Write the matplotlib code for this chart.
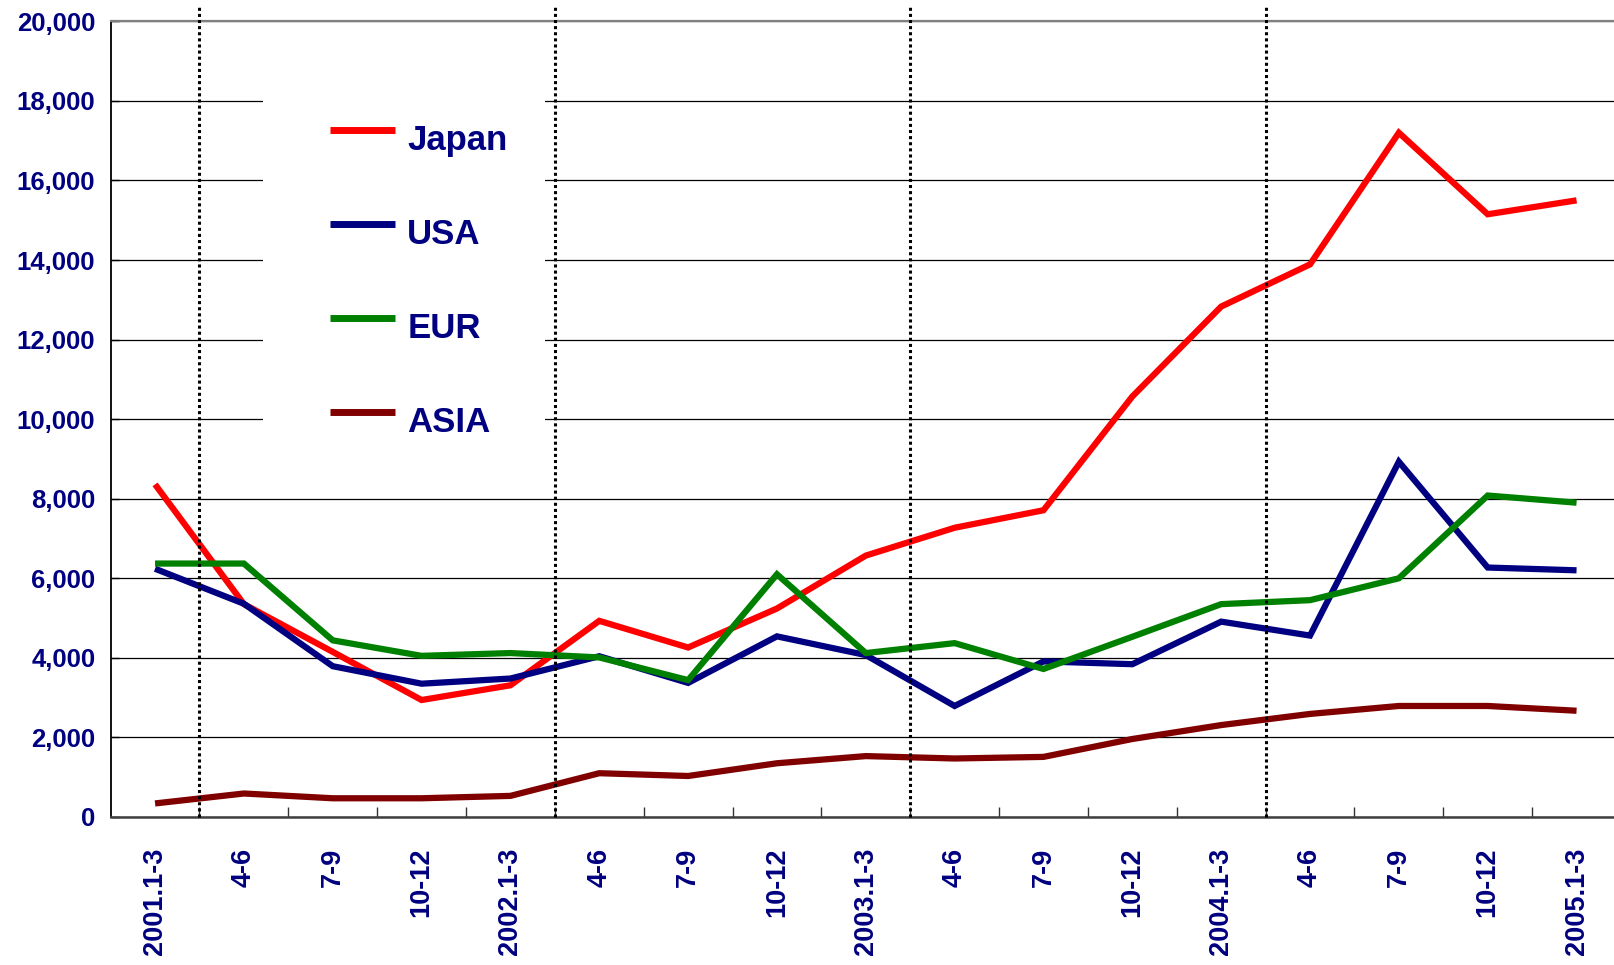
import matplotlib
matplotlib.use("Agg")
import numpy as np
import matplotlib.pyplot as plt
from matplotlib.patches import Rectangle
from matplotlib.ticker import FuncFormatter
from matplotlib.legend_handler import HandlerLine2D

plt.rcParams['font.family'] = ['Liberation Sans', 'DejaVu Sans']

quarters = ["2001.1-3", "4-6", "7-9", "10-12", "2002.1-3", "4-6", "7-9", "10-12",
            "2003.1-3", "4-6", "7-9", "10-12", "2004.1-3", "4-6", "7-9", "10-12",
            "2005.1-3"]
japan = [8360, 5350, 4150, 2940, 3310, 4930, 4260, 5240, 6570, 7270, 7710,
         10570, 12830, 13890, 17200, 15150, 15500]
usa = [6240, 5360, 3790, 3350, 3480, 4040, 3370, 4540, 4070, 2790, 3910,
       3840, 4910, 4560, 8930, 6270, 6200]
eur = [6370, 6370, 4440, 4050, 4120, 4010, 3440, 6100, 4120, 4370, 3720,
       4530, 5350, 5450, 6000, 8080, 7900]
asia = [340, 590, 470, 470, 530, 1100, 1030, 1350, 1530, 1470, 1510,
        1960, 2310, 2590, 2790, 2790, 2670]
series_names = ["Japan", "USA", "EUR", "ASIA"]
series_colors = ["#FF0000", "#000080", "#008000", "#800000"]
y_ticks = list(range(0, 20001, 2000))

NAVY = "#000080"


class RaisedLineHandler(HandlerLine2D):
    """Legend line drawn slightly above the label's centre."""
    def create_artists(self, legend, orig_handle, xdescent, ydescent,
                       width, height, fontsize, trans):
        artists = super().create_artists(legend, orig_handle, xdescent, ydescent,
                                         width, height, fontsize, trans)
        for a in artists:
            a.set_ydata(np.asarray(a.get_ydata(), dtype=float) + 5.8)
        return artists


fig = plt.figure(figsize=(16.15, 9.65), dpi=100)
ax = fig.add_axes([0.0685, 0.1534, 0.9352, 0.8245])

xs = list(range(len(quarters)))
lines = []
for name, vals, col in zip(series_names, [japan, usa, eur, asia], series_colors):
    ln, = ax.plot(xs, vals, color=col, lw=4.5, label=name, zorder=3,
                  solid_joinstyle='miter', solid_capstyle='butt')
    lines.append(ln)

ax.set_xlim(-0.5, len(quarters) - 0.5)
ax.set_ylim(y_ticks[0], y_ticks[-1])
ax.set_yticks(y_ticks)
ax.yaxis.set_major_formatter(FuncFormatter(lambda v, p: f"{int(v):,}"))

ax.set_xticks(xs)
ax.set_xticklabels(quarters, rotation=90)
ax.set_xticks([i + 0.5 for i in range(len(quarters) - 1)], minor=True)
ax.tick_params(axis='x', which='major', length=0, pad=22, labelsize=19.5,
               labelcolor=NAVY)
ax.tick_params(axis='x', which='minor', direction='in', length=7, width=1,
               color='#333333')
ax.tick_params(axis='y', direction='in', length=6, width=1, pad=11,
               labelsize=18.5, labelcolor=NAVY)
for lab in ax.get_xticklabels() + ax.get_yticklabels():
    lab.set_fontweight('bold')

ax.set_axisbelow(True)
ax.yaxis.grid(True, color='black', lw=0.9)

ax.spines['right'].set_visible(False)
ax.spines['top'].set_color('#808080')
ax.spines['top'].set_linewidth(1.6)
ax.spines['left'].set_color('black')
ax.spines['left'].set_linewidth(1.3)
ax.spines['bottom'].set_color('#404040')
ax.spines['bottom'].set_linewidth(1.8)

# year separators (between each year's first quarter and the next)
breaks = [i + 0.5 for i, q in enumerate(quarters) if '.' in q]
for b in breaks:
    ax.axvline(b, ymin=0, ymax=1.019, color='black', lw=2.2,
               linestyle=(0, (1, 1)), clip_on=False, zorder=4)

# white legend area masking the gridlines
ax.add_patch(Rectangle((0.1009, 0.45), 0.1867, 0.50, transform=ax.transAxes,
                       facecolor='white', edgecolor='none', zorder=1))

leg = ax.legend(handles=lines, loc='upper left', bbox_to_anchor=(0.1453, 0.8708),
                frameon=False, borderaxespad=0, borderpad=0,
                handlelength=1.87, handletextpad=0.35, labelspacing=1.76,
                handler_map={ln: RaisedLineHandler() for ln in lines},
                prop={'family': ['Liberation Sans', 'DejaVu Sans'],
                      'weight': 'bold', 'size': 25})
for t in leg.get_texts():
    t.set_color(NAVY)
for h in leg.legend_handles:
    h.set_linewidth(5)

fig.savefig("out.png", dpi=100)
